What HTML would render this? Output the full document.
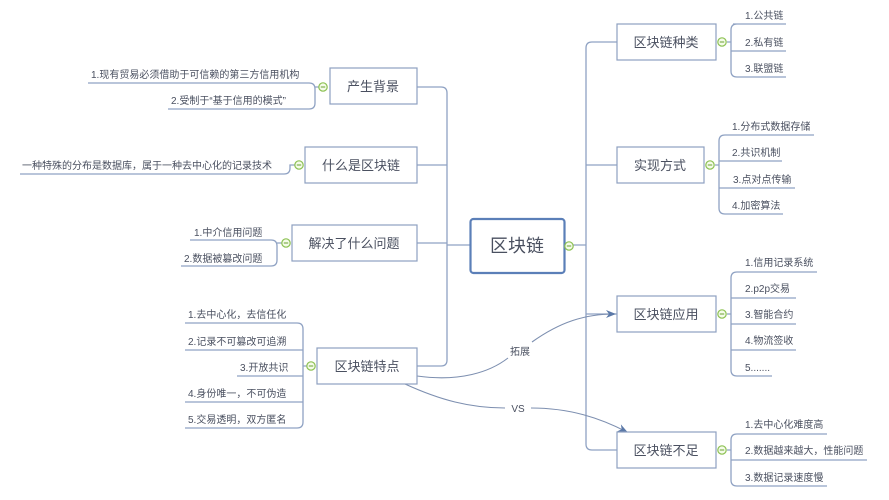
<!DOCTYPE html>
<html><head><meta charset="utf-8"><style>
html,body{margin:0;padding:0;background:#fff;width:889px;height:500px;overflow:hidden}
svg text{font-family:"Liberation Sans","Noto Sans CJK SC",sans-serif;fill:#4a5060}
</style></head><body>
<svg width="889" height="500" viewBox="0 0 889 500" xmlns="http://www.w3.org/2000/svg">
<defs>
<marker id="ar" markerWidth="10" markerHeight="8" refX="9" refY="4" orient="auto" markerUnits="userSpaceOnUse"><path d="M0,0 L10,4 L0,8 L3,4 Z" fill="#5b79a8"/></marker>
<symbol id="c" viewBox="-5 -5 10 10"><circle r="4.2" fill="#f4fbe8" stroke="#8cc152" stroke-width="1.2"/><line x1="-2.2" y1="0" x2="2.2" y2="0" stroke="#6aa032" stroke-width="1"/></symbol>
</defs>
<g fill="none" stroke="#8fa2c3" stroke-width="1.3">
<path d="M417,87 H441 Q447,87 447,93 V360 Q447,366 441,366 H417"/>
<path d="M417,165 H447 M417,243 H447 M447,245 H470"/>
<path d="M564,245 H586"/>
<path d="M617,42 H592 Q586,42 586,48 V444 Q586,450 592,450 H617"/>
<path d="M586,165 H617 M586,314 H617"/>
<path d="M88,83 H309 Q315,83 315,89 V103 Q315,109 309,109 H168 M315,87 H319"/>
<path d="M20,174 H284 Q290,174 290,168 V165 H295"/>
<path d="M190,240 H271 Q277,240 277,246 V260 Q277,266 271,266 H181 M277,243 H282"/>
<path d="M185,323 H297 Q303,323 303,329 V422 Q303,428 297,428 H185"/>
<path d="M185,350 H303 M237,376 H303 M185,402 H303 M303,366 H307"/>
<path d="M727,42 H731 M733,24 H786 M737,24 Q731,24 731,30 V71 Q731,77 737,77 H786 M731,51 H786"/>
<path d="M715,165 H719 M814,135 H725 Q719,135 719,141 V208 Q719,214 725,214 H783 M719,161 H782 M719,188 H795"/>
<path d="M727,314 H731 M817,272 H737 Q731,272 731,278 V370 Q731,376 737,376 H772 M731,298 H796 M731,324 H796 M731,350 H796"/>
<path d="M727,450 H731 M827,434 H737 Q731,434 731,440 V480 Q731,486 737,486 H827 M731,460 H867"/>
</g>
<path d="M417,376 C460,382 490,372 508,358 M532,342 C560,322 585,314 615,314" fill="none" stroke="#7d8fb0" stroke-width="1.1" marker-end="url(#ar)"/>
<path d="M405,384 C440,400 470,408 505,408 M531,408 C570,408 600,418 627,432" fill="none" stroke="#7d8fb0" stroke-width="1.1" marker-end="url(#ar)"/>
<text x="520" y="355" font-size="10" text-anchor="middle">拓展</text>
<text x="518" y="412" font-size="10" text-anchor="middle">VS</text>
<g fill="#fff" stroke="#8ea0c0" stroke-width="1.2">
<rect x="330" y="68" width="87" height="36"/>
<rect x="305" y="147" width="112" height="36"/>
<rect x="292" y="225" width="125" height="36"/>
<rect x="317" y="348" width="100" height="36"/>
<rect x="617" y="24" width="99" height="36"/>
<rect x="617" y="147" width="87" height="36"/>
<rect x="617" y="296" width="99" height="36"/>
<rect x="617" y="432" width="99" height="36"/>
</g>
<rect x="470.5" y="219" width="94" height="54" rx="3" fill="#fff" stroke="#5b7fb8" stroke-width="2.2"/>
<g font-size="13" text-anchor="middle">
<text x="373" y="91">产生背景</text>
<text x="361" y="170">什么是区块链</text>
<text x="354" y="248">解决了什么问题</text>
<text x="367" y="371">区块链特点</text>
<text x="666" y="47">区块链种类</text>
<text x="660" y="170">实现方式</text>
<text x="666" y="319">区块链应用</text>
<text x="666" y="455">区块链不足</text>
</g>
<text x="517" y="252" font-size="18" text-anchor="middle">区块链</text>
<use href="#c" x="318" y="82" width="10" height="10"/>
<use href="#c" x="294" y="160" width="10" height="10"/>
<use href="#c" x="281" y="238" width="10" height="10"/>
<use href="#c" x="306" y="361" width="10" height="10"/>
<use href="#c" x="564" y="241" width="10" height="10"/>
<use href="#c" x="717" y="37" width="10" height="10"/>
<use href="#c" x="705" y="160" width="10" height="10"/>
<use href="#c" x="717" y="309" width="10" height="10"/>
<use href="#c" x="717" y="445" width="10" height="10"/>
<g font-size="10">
<text x="91" y="78">1.现有贸易必须借助于可信赖的第三方信用机构</text>
<text x="171" y="104">2.受制于“基于信用的模式”</text>
<text x="22" y="169">一种特殊的分布是数据库，属于一种去中心化的记录技术</text>
<text x="194" y="236">1.中介信用问题</text>
<text x="184" y="262">2.数据被篡改问题</text>
<text x="188" y="318">1.去中心化，去信任化</text>
<text x="188" y="345">2.记录不可篡改可追溯</text>
<text x="240" y="371">3.开放共识</text>
<text x="188" y="397">4.身份唯一，不可伪造</text>
<text x="188" y="423">5.交易透明，双方匿名</text>
<text x="745" y="19">1.公共链</text>
<text x="745" y="46">2.私有链</text>
<text x="745" y="72">3.联盟链</text>
<text x="732" y="130">1.分布式数据存储</text>
<text x="732" y="156">2.共识机制</text>
<text x="733" y="183">3.点对点传输</text>
<text x="732" y="209">4.加密算法</text>
<text x="745" y="266">1.信用记录系统</text>
<text x="745" y="292">2.p2p交易</text>
<text x="745" y="318">3.智能合约</text>
<text x="745" y="344">4.物流签收</text>
<text x="745" y="371">5.......</text>
<text x="745" y="428">1.去中心化难度高</text>
<text x="745" y="454">2.数据越来越大，性能问题</text>
<text x="745" y="481">3.数据记录速度慢</text>
</g>
</svg>
</body></html>
